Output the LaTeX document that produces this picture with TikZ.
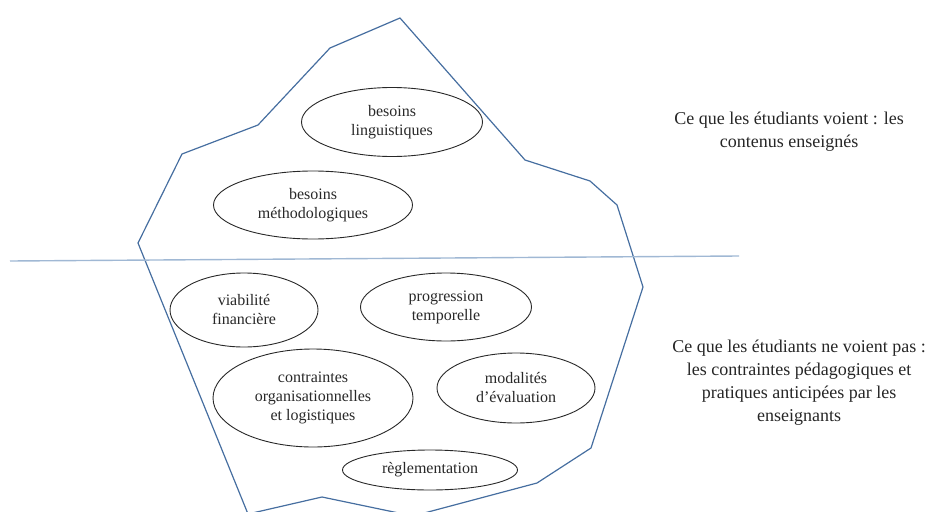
\documentclass[tikz,border=0pt]{standalone}
\usepackage{fontspec}
\setmainfont{LiberationSerif}[Extension=.ttf, UprightFont=*-Regular, BoldFont=*-Bold]
\usepackage{tikz}
\usetikzlibrary{shapes.geometric}
\definecolor{iceblue}{RGB}{70,110,160}
\definecolor{waterline}{RGB}{160,184,212}
\definecolor{inkgray}{RGB}{40,40,40}

\begin{document}
\begin{tikzpicture}[x=1pt, y=-1pt,
  need/.style={ellipse, draw=inkgray, line width=0.9pt, inner sep=0pt, align=center,
    text=inkgray, font=\fontsize{16}{19}\selectfont},
  caption/.style={align=center, text=black!85, font=\fontsize{18}{23}\selectfont}]
  \clip (0,0) rectangle (933,511);

  % Iceberg outline and water surface
  \draw[iceblue, line width=1.2pt, line join=round]
    (400,18) -- (525,160) -- (590,181) -- (617,205) -- (643,287) -- (591,448)
    -- (537,483) -- (413,516) -- (322,497) -- (248,514) -- (138,243)
    -- (182,154) -- (258,125) -- (330,48) -- cycle;
  \draw[waterline, line width=1.4pt] (10,261) -- (739,256);

  % Visible part
  \node[need, minimum width=181, minimum height=69] (ling) at (392,122) {besoins\\linguistiques};
  \node[need, minimum width=199, minimum height=68] (metho) at (313,205) {besoins\\méthodologiques};

  % Hidden part
  \node[need, minimum width=148, minimum height=74] (viab) at (244,310) {viabilité\\financière};
  \node[need, minimum width=171, minimum height=68] (prog) at (446,307) {progression\\temporelle};
  \node[need, minimum width=200, minimum height=98] (contr) at (313,398) {contraintes\\organisationnelles\\et logistiques};
  \node[need, minimum width=158, minimum height=70] (modal) at (516,388) {modalités\\d’évaluation};
  \node[need, minimum width=175, minimum height=40] (regl) at (430,470) {règlementation};

  % Captions
  \node[caption] (seen) at (789,132) {Ce que les étudiants voient : les\\contenus enseignés};
  \node[caption] (unseen) at (799,383) {Ce que les étudiants ne voient pas :\\les contraintes pédagogiques et\\pratiques anticipées par les\\enseignants};
\end{tikzpicture}
\end{document}
